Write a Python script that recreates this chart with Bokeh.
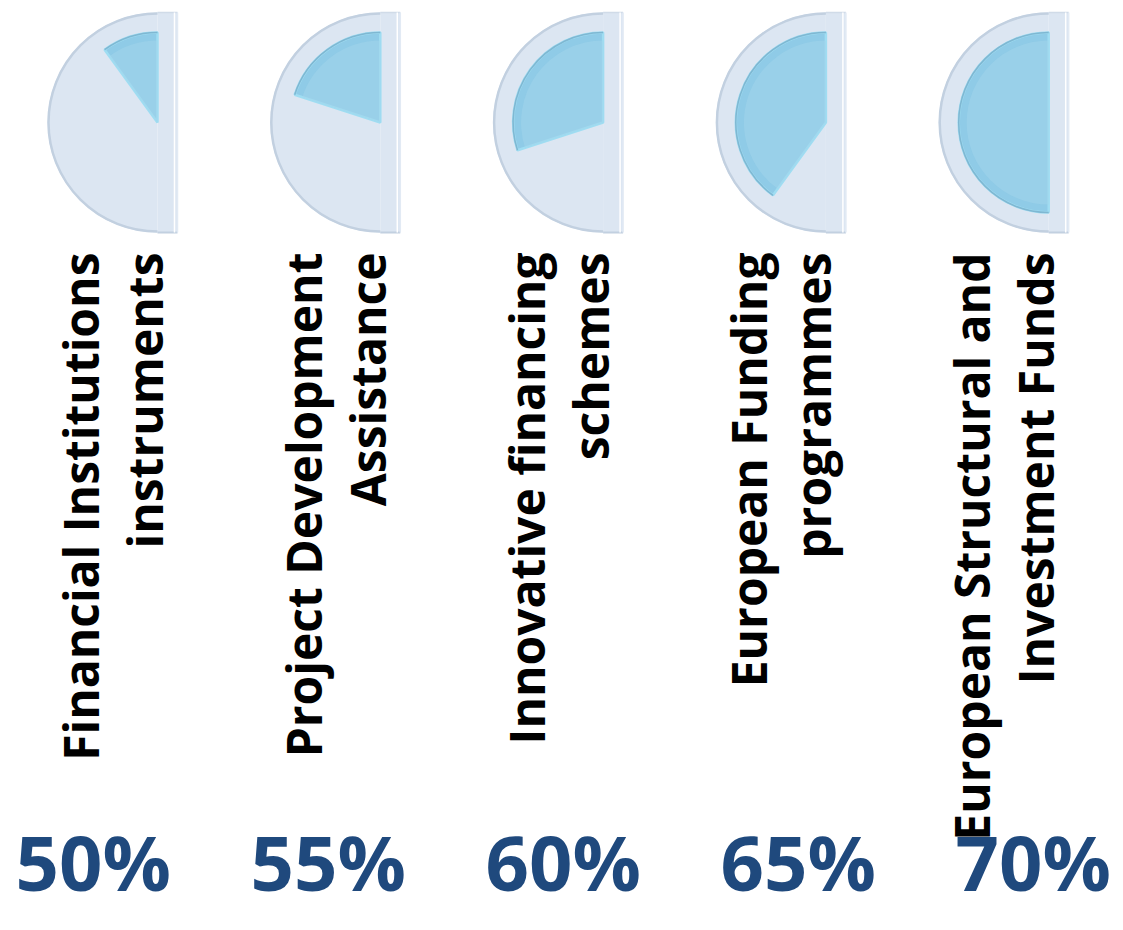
import math
from bokeh.plotting import figure
from bokeh.models import Range1d, ColumnDataSource
from bokeh.core.properties import value
from bokeh.embed import file_html
from bokeh.resources import INLINE

# ---------------- data ----------------
label_line1 = ["Financial Institutions", "Project Development", "Innovative financing",
               "European Funding", "European Structural and"]
label_line2 = ["instruments", "Assistance", "schemes", "programmes", "Investment Funds"]
shares = [50, 55, 60, 65, 70]                 # percentage labels
fill_fraction = [0.2, 0.4, 0.6, 0.8, 1.0]     # share of the half-disc filled by the inner wedge

# ---------------- layout ----------------
W, H = 1115, 914
PAGE_H = 930
p = figure(width=W, height=H, output_backend="svg", toolbar_location=None,
           x_range=Range1d(0, W), y_range=Range1d(PAGE_H - H, PAGE_H),
           min_border=0)
p.axis.visible = False
p.grid.visible = False
p.outline_line_color = None
p.background_fill_color = "white"
p.border_fill_color = "white"

n = len(shares)
first_cx, step = 157, 222.8
cy = PAGE_H - 122
R_out, R_in, strip = 110, 90, 20

cx = [first_cx + i * step for i in range(n)]
start = [math.pi / 2] * n
end_in = [math.pi / 2 + math.pi * f for f in fill_fraction]

src = ColumnDataSource(dict(
    cx=cx, cy=[cy] * n, start=start, end_in=end_in,
    end_out=[3 * math.pi / 2] * n,
    right=[c + strip for c in cx], top=[cy + R_out] * n, bottom=[cy - R_out] * n,
    edge=[c + strip - 3 for c in cx],
    l1=label_line1, l2=label_line2,
    x1=[c - 77 for c in cx], x2=[c - 13 for c in cx],
    ly=[PAGE_H - 252] * n,
))

# outer light half-disc with a side strip
p.quad(left="cx", right="right", top="top", bottom="bottom", source=src,
       fill_color="#DCE6F2", line_color=None)
p.wedge(x="cx", y="cy", radius=R_out, start_angle="start", end_angle="end_out",
        source=src, fill_color="#DCE6F2", line_color=None)
p.arc(x="cx", y="cy", radius=R_out - 1, start_angle="start", end_angle="end_out",
      source=src, line_color="#C2D0E0", line_width=2.5)
p.segment(x0="cx", y0="top", x1="right", y1="top", source=src,
          line_color="#D0DBE8", line_width=1.5)
p.segment(x0="cx", y0="bottom", x1="right", y1="bottom", source=src,
          line_color="#C2D0E0", line_width=2)
p.segment(x0="right", y0="top", x1="right", y1="bottom", source=src,
          line_color="#E2EAF4", line_width=1.5)
p.segment(x0="edge", y0="top", x1="edge", y1="bottom", source=src,
          line_color="white", line_width=1.5)

# inner filled wedge (value) with a soft bevel look
p.wedge(x="cx", y="cy", radius=R_in, start_angle="start", end_angle="end_in",
        source=src, fill_color="#8FCBE7", line_color="#9FDDF2", line_width=2.5)
p.wedge(x="cx", y="cy", radius=R_in - 8, start_angle="start", end_angle="end_in",
        source=src, fill_color="#A4D5EB", fill_alpha=0.5, line_color=None)
p.arc(x="cx", y="cy", radius=R_in, start_angle="start", end_angle="end_in",
      source=src, line_color="#7FB7D2", line_width=1.5)

# rotated category labels
for col, txt in (("x1", "l1"), ("x2", "l2")):
    p.text(x=col, y="ly", text=txt, source=src,
           angle=math.pi / 2, text_align="right", text_baseline="alphabetic",
           text_font=value("Open Sans"), text_font_style="bold",
           text_font_size="48px", text_color="black")

# percentage labels
pct_src = ColumnDataSource(dict(
    x=[15 + i * 235.0 for i in range(n)],
    y=[PAGE_H - 861] * n,
    t=[f"{s}%" for s in shares],
))
p.text(x="x", y="y", text="t", source=pct_src, text_align="left",
       text_baseline="alphabetic", text_font=value("Open Sans"),
       text_font_style="bold", text_font_size="76px", text_color="#1F497D")

open("out.html", "w").write(file_html(p, INLINE))
